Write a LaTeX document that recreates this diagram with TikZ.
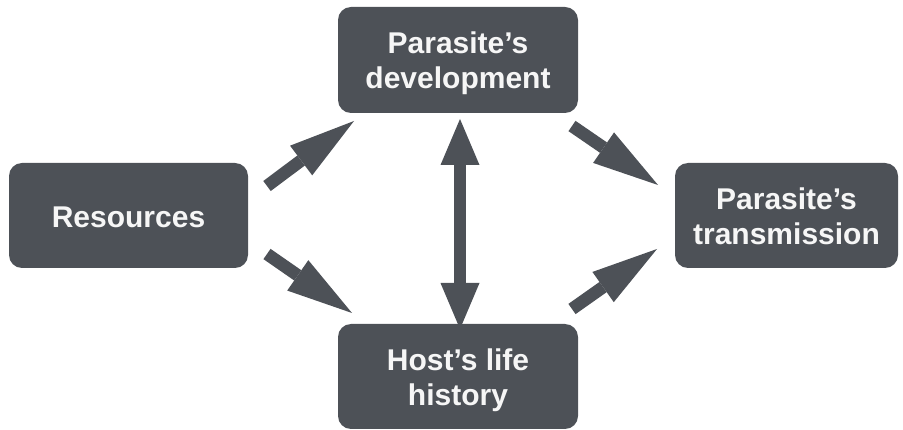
\documentclass[tikz,border=0pt]{standalone}
\usepackage{fontspec}
\setmainfont{Liberation Sans}
\usetikzlibrary{arrows.meta}
\definecolor{boxgray}{RGB}{77,81,87}
\definecolor{txtwhite}{RGB}{246,246,246}
\tikzset{
  box/.style={fill=boxgray, draw=none, rounded corners=13pt, inner sep=0pt},
  boxtext/.style={inner sep=0pt, text=txtwhite, align=center, anchor=base,
    font=\fontsize{30}{35}\selectfont\bfseries},
  bigarrow/.style={draw=boxgray, line width=12.5pt,
    -{Triangle[length=66pt,width=37pt,line width=0pt]}},
  dblarrow/.style={draw=boxgray, line width=12.5pt,
    {Triangle[length=46pt,width=39pt,line width=0pt]}-{Triangle[length=46pt,width=39pt,line width=0pt]}}
}
\begin{document}
\begin{tikzpicture}[x=1pt,y=-1pt]
\useasboundingbox (0,0) rectangle (903,430);
\node[box, minimum width=239pt, minimum height=105pt] (res) at (128.5,215.5) {};
\node[box, minimum width=240pt, minimum height=106pt] (dev) at (458,60) {};
\node[box, minimum width=240pt, minimum height=105pt] (host) at (458,376.5) {};
\node[box, minimum width=223pt, minimum height=105pt] (trans) at (786.5,215.5) {};
\node[boxtext] (restxt) at (128.5,228) {Resources};
\node[boxtext] (devtxt) at (458,89) {Parasite’s\\development};
\node[boxtext] (hosttxt) at (458,406) {Host’s life\\history};
\node[boxtext] (transtxt) at (786.5,245) {Parasite’s\\transmission};
\coordinate (a1s) at (267,186);
\coordinate (a1e) at (354,121);
\coordinate (a2s) at (267,254);
\coordinate (a2e) at (352,313);
\coordinate (a3s) at (572,126);
\coordinate (a3e) at (658,185);
\coordinate (a4s) at (572,309);
\coordinate (a4e) at (657,249);
\coordinate (vs) at (460,119);
\coordinate (ve) at (460,329);
\draw[bigarrow] (a1s) -- (a1e);
\draw[bigarrow] (a2s) -- (a2e);
\draw[bigarrow] (a3s) -- (a3e);
\draw[bigarrow] (a4s) -- (a4e);
\draw[dblarrow] (vs) -- (ve);
\end{tikzpicture}
\end{document}
